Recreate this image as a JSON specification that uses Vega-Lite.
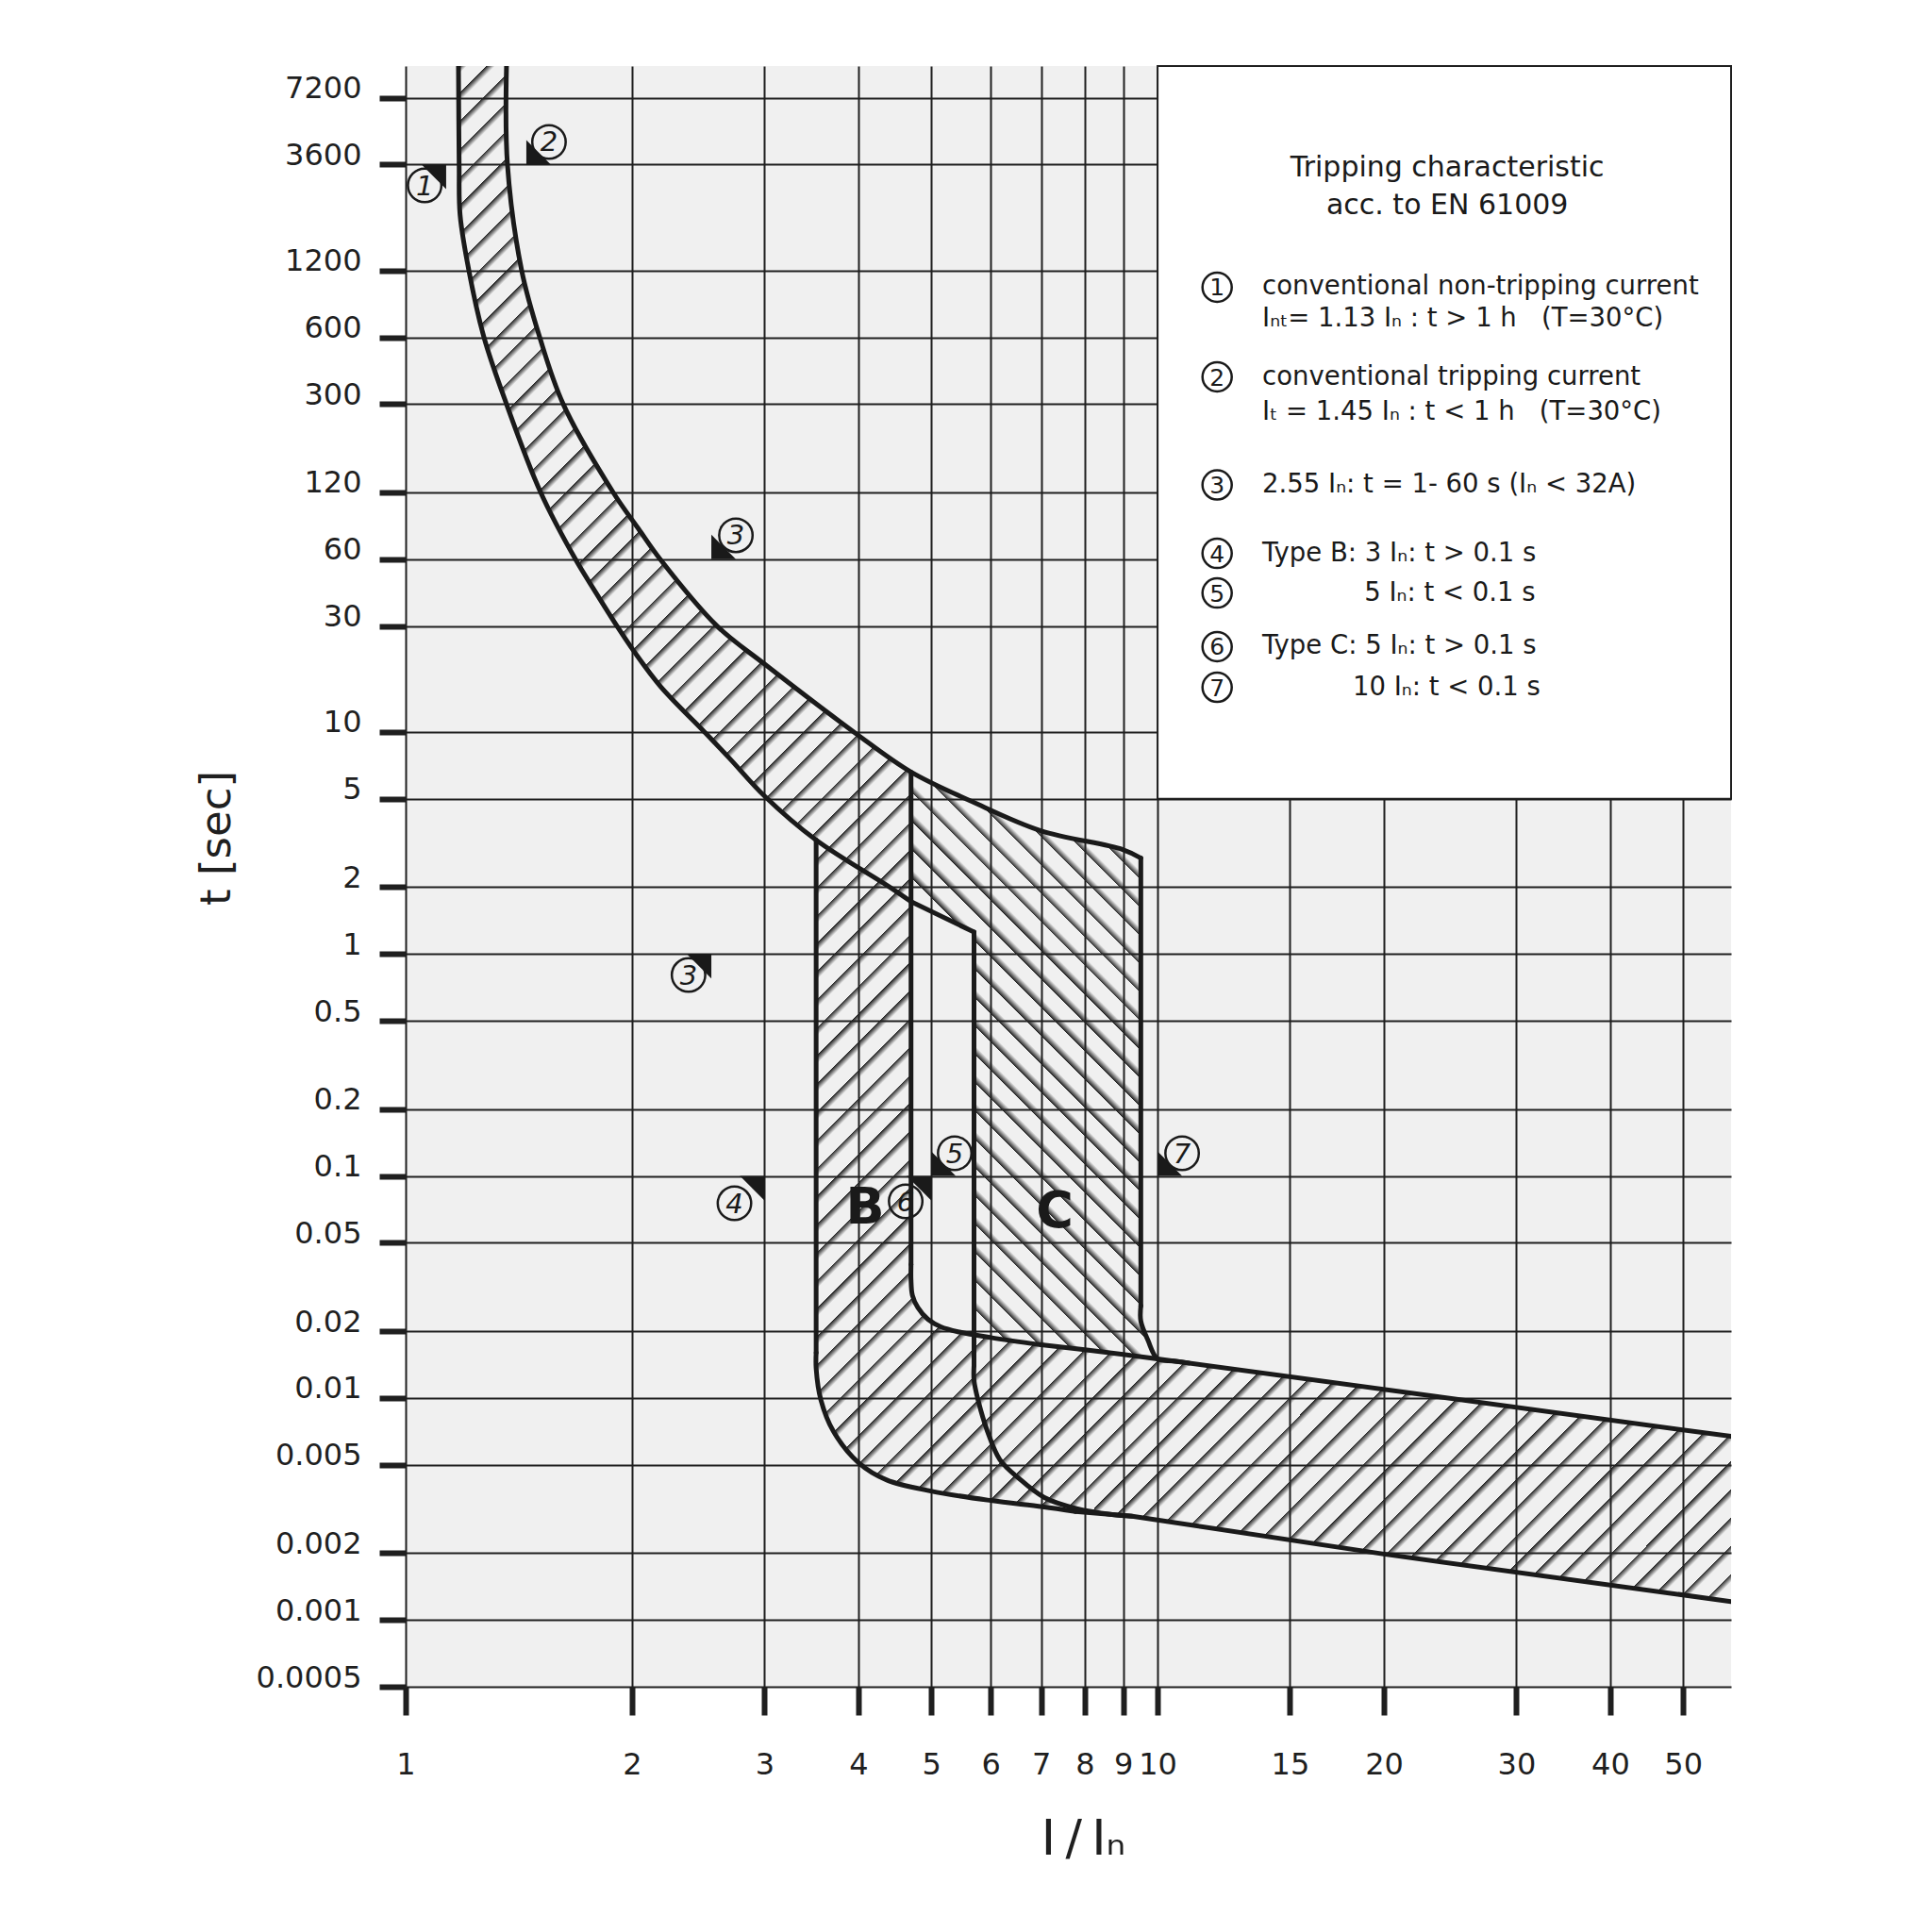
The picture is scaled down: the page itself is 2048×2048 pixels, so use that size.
{
 "$schema": "https://vega.github.io/schema/vega-lite/v6.json",
 "width": 1405,
 "height": 1718,
 "autosize": {"type": "none"},
 "padding": {"left": 430, "top": 70, "right": 213, "bottom": 260},
 "background": "white",
 "config": {"font": "DejaVu Sans", "view": {"fill": "#f0f0f0", "stroke": null}},
 "encoding": {
  "x": {"field": "x", "type": "quantitative",
   "scale": {"type": "log", "domain": [1, 57.9], "nice": false},
   "axis": {"values": [1,2,3,4,5,6,7,8,9,10,15,20,30,40,50], "labelExpr": "'' + datum.value",
    "grid": true, "gridColor": "#1f1f1f", "gridWidth": 2, "gridOpacity": 1,
    "domain": false, "tickSize": 30, "tickWidth": 6, "tickColor": "#1f1f1f",
    "labelFontSize": 32, "labelColor": "#1f1f1f", "labelPadding": 37, "labelFlush": false, "labelOverlap": false,
    "title": "I\u2009/\u2009Iₙ", "titleFontSize": 52, "titleFontWeight": "normal", "titleColor": "#1f1f1f",
    "titleX": 718, "titleY": 177, "titleAlign": "center", "titleBaseline": "alphabetic"}},
  "y": {"field": "t", "type": "quantitative",
   "scale": {"type": "log", "domain": [0.0005, 10000], "nice": false},
   "axis": {"values": [0.0005,0.001,0.002,0.005,0.01,0.02,0.05,0.1,0.2,0.5,1,2,5,10,30,60,120,300,600,1200,3600,7200],
    "labelExpr": "'' + datum.value",
    "grid": true, "gridColor": "#1f1f1f", "gridWidth": 2, "gridOpacity": 1,
    "domain": false, "tickSize": 28, "tickWidth": 6, "tickColor": "#1f1f1f",
    "labelFontSize": 32, "labelColor": "#1f1f1f", "labelPadding": 19, "labelBaseline": "alphabetic",
    "title": "t [sec]", "titleFontSize": 45, "titleFontWeight": "normal", "titleColor": "#1f1f1f",
    "titleX": -201, "titleY": 818, "titleAngle": -90, "titleAlign": "center", "titleBaseline": "middle"}}
 },
 "layer": [
  {"data": {"values": [{"x": 10, "x2": 57.9, "t": 5, "t2": 10000}]},
   "mark": {"type": "rect", "fill": "white", "stroke": "#1f1f1f", "strokeWidth": 2},
   "encoding": {"x2": {"field": "x2"}, "y2": {"field": "t2"}}},
  {"data": {"values": [
    {"t":10000,"x":1.1756,"x2":1.3619},
    {"t":3600,"x":1.178,"x2":1.3658},
    {"t":2141,"x":1.1813,"x2":1.394},
    {"t":1200,"x":1.2136,"x2":1.4266},
    {"t":600,"x":1.271,"x2":1.5077},
    {"t":300,"x":1.3619,"x2":1.6202},
    {"t":120,"x":1.512,"x2":1.888},
    {"t":82.3,"x":1.6023,"x2":2.04},
    {"t":60,"x":1.682,"x2":2.18},
    {"t":42.9,"x":1.787,"x2":2.3717},
    {"t":30,"x":1.91,"x2":2.595},
    {"t":23.1,"x":2.012,"x2":2.8576},
    {"t":20.25,"x":2.072,"x2":3.0},
    {"t":16.06,"x":2.182,"x2":3.283},
    {"t":10,"x":2.497,"x2":3.945},
    {"t":7.61,"x":2.696,"x2":4.4264},
    {"t":6.6,"x":2.8036,"x2":4.70},
    {"t":5.15,"x":3.0,"x2":4.70},
    {"t":3.258,"x":3.515,"x2":4.70},
    {"t":0.034,"x":3.515,"x2":4.70},
    {"t":0.029,"x":3.515,"x2":4.72},
    {"t":0.0255,"x":3.515,"x2":4.80},
    {"t":0.0226,"x":3.515,"x2":4.95},
    {"t":0.0209,"x":3.515,"x2":5.15},
    {"t":0.0198,"x":3.515,"x2":5.45},
    {"t":0.0187,"x":3.515,"x2":6.0},
    {"t":0.01735,"x":3.515,"x2":7.0},
    {"t":0.0165,"x":3.515,"x2":8.0},
    {"t":0.0157,"x":3.515,"x2":9.0},
    {"t":0.015,"x":3.515,"x2":10.0},
    {"t":0.01358,"x":3.515,"x2":12.43},
    {"t":0.00981,"x":3.566,"x2":25.27},
    {"t":0.00707,"x":3.706,"x2":51.67},
    {"t":0.00671,"x":3.752,"x2":57.9},
    {"t":0.005105,"x":4.003,"x2":57.9},
    {"t":0.004268,"x":4.364,"x2":57.9},
    {"t":0.003806,"x":4.995,"x2":57.9},
    {"t":0.003451,"x":5.997,"x2":57.9},
    {"t":0.003233,"x":7.03,"x2":57.9},
    {"t":0.003078,"x":7.779,"x2":57.9},
    {"t":0.00293,"x":9.25,"x2":57.9},
    {"t":0.00198,"x":20,"x2":57.9},
    {"t":0.00121,"x":57.9,"x2":57.9}
   ]},
   "mark": {"type": "area", "orient": "horizontal", "clip": true,
    "fill": {"gradient": "linear", "x1": 0, "y1": 0, "x2": 0.8988, "y2": 1.084, "stops": [
{"offset":0,"color":"#222"},{"offset":0.003,"color":"#2220"},{"offset":0.01,"color":"#2220"},
{"offset":0.01,"color":"#222"},{"offset":0.013,"color":"#2220"},{"offset":0.02,"color":"#2220"},
{"offset":0.02,"color":"#222"},{"offset":0.023,"color":"#2220"},{"offset":0.03,"color":"#2220"},
{"offset":0.03,"color":"#222"},{"offset":0.033,"color":"#2220"},{"offset":0.04,"color":"#2220"},
{"offset":0.04,"color":"#222"},{"offset":0.043,"color":"#2220"},{"offset":0.05,"color":"#2220"},
{"offset":0.05,"color":"#222"},{"offset":0.053,"color":"#2220"},{"offset":0.06,"color":"#2220"},
{"offset":0.06,"color":"#222"},{"offset":0.063,"color":"#2220"},{"offset":0.07,"color":"#2220"},
{"offset":0.07,"color":"#222"},{"offset":0.073,"color":"#2220"},{"offset":0.08,"color":"#2220"},
{"offset":0.08,"color":"#222"},{"offset":0.083,"color":"#2220"},{"offset":0.09,"color":"#2220"},
{"offset":0.09,"color":"#222"},{"offset":0.093,"color":"#2220"},{"offset":0.1,"color":"#2220"},
{"offset":0.1,"color":"#222"},{"offset":0.103,"color":"#2220"},{"offset":0.11,"color":"#2220"},
{"offset":0.11,"color":"#222"},{"offset":0.113,"color":"#2220"},{"offset":0.12,"color":"#2220"},
{"offset":0.12,"color":"#222"},{"offset":0.123,"color":"#2220"},{"offset":0.13,"color":"#2220"},
{"offset":0.13,"color":"#222"},{"offset":0.133,"color":"#2220"},{"offset":0.14,"color":"#2220"},
{"offset":0.14,"color":"#222"},{"offset":0.143,"color":"#2220"},{"offset":0.15,"color":"#2220"},
{"offset":0.15,"color":"#222"},{"offset":0.153,"color":"#2220"},{"offset":0.16,"color":"#2220"},
{"offset":0.16,"color":"#222"},{"offset":0.163,"color":"#2220"},{"offset":0.17,"color":"#2220"},
{"offset":0.17,"color":"#222"},{"offset":0.173,"color":"#2220"},{"offset":0.18,"color":"#2220"},
{"offset":0.18,"color":"#222"},{"offset":0.183,"color":"#2220"},{"offset":0.19,"color":"#2220"},
{"offset":0.19,"color":"#222"},{"offset":0.193,"color":"#2220"},{"offset":0.2,"color":"#2220"},
{"offset":0.2,"color":"#222"},{"offset":0.203,"color":"#2220"},{"offset":0.21,"color":"#2220"},
{"offset":0.21,"color":"#222"},{"offset":0.213,"color":"#2220"},{"offset":0.22,"color":"#2220"},
{"offset":0.22,"color":"#222"},{"offset":0.223,"color":"#2220"},{"offset":0.23,"color":"#2220"},
{"offset":0.23,"color":"#222"},{"offset":0.233,"color":"#2220"},{"offset":0.24,"color":"#2220"},
{"offset":0.24,"color":"#222"},{"offset":0.243,"color":"#2220"},{"offset":0.25,"color":"#2220"},
{"offset":0.25,"color":"#222"},{"offset":0.253,"color":"#2220"},{"offset":0.26,"color":"#2220"},
{"offset":0.26,"color":"#222"},{"offset":0.263,"color":"#2220"},{"offset":0.27,"color":"#2220"},
{"offset":0.27,"color":"#222"},{"offset":0.273,"color":"#2220"},{"offset":0.28,"color":"#2220"},
{"offset":0.28,"color":"#222"},{"offset":0.283,"color":"#2220"},{"offset":0.29,"color":"#2220"},
{"offset":0.29,"color":"#222"},{"offset":0.293,"color":"#2220"},{"offset":0.3,"color":"#2220"},
{"offset":0.3,"color":"#222"},{"offset":0.303,"color":"#2220"},{"offset":0.31,"color":"#2220"},
{"offset":0.31,"color":"#222"},{"offset":0.313,"color":"#2220"},{"offset":0.32,"color":"#2220"},
{"offset":0.32,"color":"#222"},{"offset":0.323,"color":"#2220"},{"offset":0.33,"color":"#2220"},
{"offset":0.33,"color":"#222"},{"offset":0.333,"color":"#2220"},{"offset":0.34,"color":"#2220"},
{"offset":0.34,"color":"#222"},{"offset":0.343,"color":"#2220"},{"offset":0.35,"color":"#2220"},
{"offset":0.35,"color":"#222"},{"offset":0.353,"color":"#2220"},{"offset":0.36,"color":"#2220"},
{"offset":0.36,"color":"#222"},{"offset":0.363,"color":"#2220"},{"offset":0.37,"color":"#2220"},
{"offset":0.37,"color":"#222"},{"offset":0.373,"color":"#2220"},{"offset":0.38,"color":"#2220"},
{"offset":0.38,"color":"#222"},{"offset":0.383,"color":"#2220"},{"offset":0.39,"color":"#2220"},
{"offset":0.39,"color":"#222"},{"offset":0.393,"color":"#2220"},{"offset":0.4,"color":"#2220"},
{"offset":0.4,"color":"#222"},{"offset":0.403,"color":"#2220"},{"offset":0.41,"color":"#2220"},
{"offset":0.41,"color":"#222"},{"offset":0.413,"color":"#2220"},{"offset":0.42,"color":"#2220"},
{"offset":0.42,"color":"#222"},{"offset":0.423,"color":"#2220"},{"offset":0.43,"color":"#2220"},
{"offset":0.43,"color":"#222"},{"offset":0.433,"color":"#2220"},{"offset":0.44,"color":"#2220"},
{"offset":0.44,"color":"#222"},{"offset":0.443,"color":"#2220"},{"offset":0.45,"color":"#2220"},
{"offset":0.45,"color":"#222"},{"offset":0.453,"color":"#2220"},{"offset":0.46,"color":"#2220"},
{"offset":0.46,"color":"#222"},{"offset":0.463,"color":"#2220"},{"offset":0.47,"color":"#2220"},
{"offset":0.47,"color":"#222"},{"offset":0.473,"color":"#2220"},{"offset":0.48,"color":"#2220"},
{"offset":0.48,"color":"#222"},{"offset":0.483,"color":"#2220"},{"offset":0.49,"color":"#2220"},
{"offset":0.49,"color":"#222"},{"offset":0.493,"color":"#2220"},{"offset":0.5,"color":"#2220"},
{"offset":0.5,"color":"#222"},{"offset":0.503,"color":"#2220"},{"offset":0.51,"color":"#2220"},
{"offset":0.51,"color":"#222"},{"offset":0.513,"color":"#2220"},{"offset":0.52,"color":"#2220"},
{"offset":0.52,"color":"#222"},{"offset":0.523,"color":"#2220"},{"offset":0.53,"color":"#2220"},
{"offset":0.53,"color":"#222"},{"offset":0.533,"color":"#2220"},{"offset":0.54,"color":"#2220"},
{"offset":0.54,"color":"#222"},{"offset":0.543,"color":"#2220"},{"offset":0.55,"color":"#2220"},
{"offset":0.55,"color":"#222"},{"offset":0.553,"color":"#2220"},{"offset":0.56,"color":"#2220"},
{"offset":0.56,"color":"#222"},{"offset":0.563,"color":"#2220"},{"offset":0.57,"color":"#2220"},
{"offset":0.57,"color":"#222"},{"offset":0.573,"color":"#2220"},{"offset":0.58,"color":"#2220"},
{"offset":0.58,"color":"#222"},{"offset":0.583,"color":"#2220"},{"offset":0.59,"color":"#2220"},
{"offset":0.59,"color":"#222"},{"offset":0.593,"color":"#2220"},{"offset":0.6,"color":"#2220"},
{"offset":0.6,"color":"#222"},{"offset":0.603,"color":"#2220"},{"offset":0.61,"color":"#2220"},
{"offset":0.61,"color":"#222"},{"offset":0.613,"color":"#2220"},{"offset":0.62,"color":"#2220"},
{"offset":0.62,"color":"#222"},{"offset":0.623,"color":"#2220"},{"offset":0.63,"color":"#2220"},
{"offset":0.63,"color":"#222"},{"offset":0.633,"color":"#2220"},{"offset":0.64,"color":"#2220"},
{"offset":0.64,"color":"#222"},{"offset":0.643,"color":"#2220"},{"offset":0.65,"color":"#2220"},
{"offset":0.65,"color":"#222"},{"offset":0.653,"color":"#2220"},{"offset":0.66,"color":"#2220"},
{"offset":0.66,"color":"#222"},{"offset":0.663,"color":"#2220"},{"offset":0.67,"color":"#2220"},
{"offset":0.67,"color":"#222"},{"offset":0.673,"color":"#2220"},{"offset":0.68,"color":"#2220"},
{"offset":0.68,"color":"#222"},{"offset":0.683,"color":"#2220"},{"offset":0.69,"color":"#2220"},
{"offset":0.69,"color":"#222"},{"offset":0.693,"color":"#2220"},{"offset":0.7,"color":"#2220"},
{"offset":0.7,"color":"#222"},{"offset":0.703,"color":"#2220"},{"offset":0.71,"color":"#2220"},
{"offset":0.71,"color":"#222"},{"offset":0.713,"color":"#2220"},{"offset":0.72,"color":"#2220"},
{"offset":0.72,"color":"#222"},{"offset":0.723,"color":"#2220"},{"offset":0.73,"color":"#2220"},
{"offset":0.73,"color":"#222"},{"offset":0.733,"color":"#2220"},{"offset":0.74,"color":"#2220"},
{"offset":0.74,"color":"#222"},{"offset":0.743,"color":"#2220"},{"offset":0.75,"color":"#2220"},
{"offset":0.75,"color":"#222"},{"offset":0.753,"color":"#2220"},{"offset":0.76,"color":"#2220"},
{"offset":0.76,"color":"#222"},{"offset":0.763,"color":"#2220"},{"offset":0.77,"color":"#2220"},
{"offset":0.77,"color":"#222"},{"offset":0.773,"color":"#2220"},{"offset":0.78,"color":"#2220"},
{"offset":0.78,"color":"#222"},{"offset":0.783,"color":"#2220"},{"offset":0.79,"color":"#2220"},
{"offset":0.79,"color":"#222"},{"offset":0.793,"color":"#2220"},{"offset":0.8,"color":"#2220"},
{"offset":0.8,"color":"#222"},{"offset":0.803,"color":"#2220"},{"offset":0.81,"color":"#2220"},
{"offset":0.81,"color":"#222"},{"offset":0.813,"color":"#2220"},{"offset":0.82,"color":"#2220"},
{"offset":0.82,"color":"#222"},{"offset":0.823,"color":"#2220"},{"offset":0.83,"color":"#2220"},
{"offset":0.83,"color":"#222"},{"offset":0.833,"color":"#2220"},{"offset":0.84,"color":"#2220"},
{"offset":0.84,"color":"#222"},{"offset":0.843,"color":"#2220"},{"offset":0.85,"color":"#2220"},
{"offset":0.85,"color":"#222"},{"offset":0.853,"color":"#2220"},{"offset":0.86,"color":"#2220"},
{"offset":0.86,"color":"#222"},{"offset":0.863,"color":"#2220"},{"offset":0.87,"color":"#2220"},
{"offset":0.87,"color":"#222"},{"offset":0.873,"color":"#2220"},{"offset":0.88,"color":"#2220"},
{"offset":0.88,"color":"#222"},{"offset":0.883,"color":"#2220"},{"offset":0.89,"color":"#2220"},
{"offset":0.89,"color":"#222"},{"offset":0.893,"color":"#2220"},{"offset":0.9,"color":"#2220"},
{"offset":0.9,"color":"#222"},{"offset":0.903,"color":"#2220"},{"offset":0.91,"color":"#2220"},
{"offset":0.91,"color":"#222"},{"offset":0.913,"color":"#2220"},{"offset":0.92,"color":"#2220"},
{"offset":0.92,"color":"#222"},{"offset":0.923,"color":"#2220"},{"offset":0.93,"color":"#2220"},
{"offset":0.93,"color":"#222"},{"offset":0.933,"color":"#2220"},{"offset":0.94,"color":"#2220"},
{"offset":0.94,"color":"#222"},{"offset":0.943,"color":"#2220"},{"offset":0.95,"color":"#2220"},
{"offset":0.95,"color":"#222"},{"offset":0.953,"color":"#2220"},{"offset":0.96,"color":"#2220"},
{"offset":0.96,"color":"#222"},{"offset":0.963,"color":"#2220"},{"offset":0.97,"color":"#2220"},
{"offset":0.97,"color":"#222"},{"offset":0.973,"color":"#2220"},{"offset":0.98,"color":"#2220"},
{"offset":0.98,"color":"#222"},{"offset":0.983,"color":"#2220"},{"offset":0.99,"color":"#2220"},
{"offset":0.99,"color":"#222"},{"offset":0.993,"color":"#2220"},{"offset":1,"color":"#2220"}
    ]}},
   "encoding": {"x2": {"field": "x2"}}},
  {"data": {"values": [
    {"t":6.6,"x":4.70,"x2":4.70},
    {"t":4.867,"x":4.70,"x2":5.66},
    {"t":3.594,"x":4.70,"x2":6.991},
    {"t":2.954,"x":4.70,"x2":8.986},
    {"t":2.705,"x":4.70,"x2":9.50},
    {"t":1.72,"x":4.70,"x2":9.50},
    {"t":1.254,"x":5.70,"x2":9.50},
    {"t":0.02216,"x":5.70,"x2":9.50},
    {"t":0.0193,"x":5.70,"x2":9.60},
    {"t":0.01822,"x":6.33,"x2":9.707},
    {"t":0.0165,"x":8.0,"x2":9.856},
    {"t":0.0157,"x":9.0,"x2":9.93},
    {"t":0.015,"x":10.0,"x2":10.0}
   ]},
   "mark": {"type": "area", "orient": "horizontal", "clip": true,
    "fill": {"gradient": "linear", "x1": 0, "y1": 1, "x2": 0.5072, "y2": -0.2071, "stops": [
{"offset":0,"color":"#222"},{"offset":0.0105,"color":"#2220"},{"offset":0.034,"color":"#2220"},
{"offset":0.034,"color":"#222"},{"offset":0.0445,"color":"#2220"},{"offset":0.068,"color":"#2220"},
{"offset":0.068,"color":"#222"},{"offset":0.0785,"color":"#2220"},{"offset":0.102,"color":"#2220"},
{"offset":0.102,"color":"#222"},{"offset":0.1125,"color":"#2220"},{"offset":0.136,"color":"#2220"},
{"offset":0.136,"color":"#222"},{"offset":0.1465,"color":"#2220"},{"offset":0.17,"color":"#2220"},
{"offset":0.17,"color":"#222"},{"offset":0.1805,"color":"#2220"},{"offset":0.204,"color":"#2220"},
{"offset":0.204,"color":"#222"},{"offset":0.2145,"color":"#2220"},{"offset":0.238,"color":"#2220"},
{"offset":0.238,"color":"#222"},{"offset":0.2485,"color":"#2220"},{"offset":0.272,"color":"#2220"},
{"offset":0.272,"color":"#222"},{"offset":0.2825,"color":"#2220"},{"offset":0.306,"color":"#2220"},
{"offset":0.306,"color":"#222"},{"offset":0.3165,"color":"#2220"},{"offset":0.34,"color":"#2220"},
{"offset":0.34,"color":"#222"},{"offset":0.3505,"color":"#2220"},{"offset":0.374,"color":"#2220"},
{"offset":0.374,"color":"#222"},{"offset":0.3845,"color":"#2220"},{"offset":0.408,"color":"#2220"},
{"offset":0.408,"color":"#222"},{"offset":0.4185,"color":"#2220"},{"offset":0.442,"color":"#2220"},
{"offset":0.442,"color":"#222"},{"offset":0.4525,"color":"#2220"},{"offset":0.476,"color":"#2220"},
{"offset":0.476,"color":"#222"},{"offset":0.4865,"color":"#2220"},{"offset":0.51,"color":"#2220"},
{"offset":0.51,"color":"#222"},{"offset":0.5205,"color":"#2220"},{"offset":0.544,"color":"#2220"},
{"offset":0.544,"color":"#222"},{"offset":0.5545,"color":"#2220"},{"offset":0.578,"color":"#2220"},
{"offset":0.578,"color":"#222"},{"offset":0.5885,"color":"#2220"},{"offset":0.612,"color":"#2220"},
{"offset":0.612,"color":"#222"},{"offset":0.6225,"color":"#2220"},{"offset":0.646,"color":"#2220"},
{"offset":0.646,"color":"#222"},{"offset":0.6565,"color":"#2220"},{"offset":0.68,"color":"#2220"},
{"offset":0.68,"color":"#222"},{"offset":0.6905,"color":"#2220"},{"offset":0.714,"color":"#2220"},
{"offset":0.714,"color":"#222"},{"offset":0.7245,"color":"#2220"},{"offset":0.748,"color":"#2220"},
{"offset":0.748,"color":"#222"},{"offset":0.7585,"color":"#2220"},{"offset":0.782,"color":"#2220"},
{"offset":0.782,"color":"#222"},{"offset":0.7925,"color":"#2220"},{"offset":0.816,"color":"#2220"},
{"offset":0.816,"color":"#222"},{"offset":0.8265,"color":"#2220"},{"offset":0.85,"color":"#2220"},
{"offset":0.85,"color":"#222"},{"offset":0.8605,"color":"#2220"},{"offset":0.884,"color":"#2220"},
{"offset":0.884,"color":"#222"},{"offset":0.8945,"color":"#2220"},{"offset":0.918,"color":"#2220"},
{"offset":0.918,"color":"#222"},{"offset":0.9285,"color":"#2220"},{"offset":0.952,"color":"#2220"},
{"offset":0.952,"color":"#222"},{"offset":0.9625,"color":"#2220"},{"offset":0.986,"color":"#2220"},
{"offset":0.986,"color":"#222"},{"offset":0.9965,"color":"#2220"},{"offset":1,"color":"#2220"}
    ]}},
   "encoding": {"x2": {"field": "x2"}}},
  {"data": {"values": [
    {"seg":"L","i":0,"x":1.1756,"t":10000},{"seg":"L","i":1,"x":1.178,"t":3600},{"seg":"L","i":2,"x":1.1813,"t":2141},
    {"seg":"L","i":3,"x":1.2136,"t":1200},{"seg":"L","i":4,"x":1.271,"t":600},{"seg":"L","i":5,"x":1.3619,"t":300},
    {"seg":"L","i":6,"x":1.512,"t":120},{"seg":"L","i":7,"x":1.682,"t":60},{"seg":"L","i":8,"x":1.787,"t":42.9},
    {"seg":"L","i":9,"x":1.91,"t":30},{"seg":"L","i":10,"x":2.012,"t":23.1},{"seg":"L","i":11,"x":2.182,"t":16.06},
    {"seg":"L","i":12,"x":2.497,"t":10},{"seg":"L","i":13,"x":2.696,"t":7.61},{"seg":"L","i":14,"x":3.0,"t":5.15},
    {"seg":"L","i":15,"x":3.515,"t":3.258},{"seg":"L","i":16,"x":4.403,"t":2.0},{"seg":"L","i":17,"x":4.70,"t":1.72},
    {"seg":"U","i":0,"x":1.3619,"t":10000},{"seg":"U","i":1,"x":1.3658,"t":3600},{"seg":"U","i":2,"x":1.4266,"t":1200},
    {"seg":"U","i":3,"x":1.5077,"t":600},{"seg":"U","i":4,"x":1.6202,"t":300},{"seg":"U","i":5,"x":1.888,"t":120},
    {"seg":"U","i":6,"x":2.04,"t":82.3},{"seg":"U","i":7,"x":2.18,"t":60},{"seg":"U","i":8,"x":2.595,"t":30},
    {"seg":"U","i":9,"x":3.0,"t":20.25},{"seg":"U","i":10,"x":3.945,"t":10},{"seg":"U","i":11,"x":4.70,"t":6.6},
    {"seg":"U","i":12,"x":5.66,"t":4.867},{"seg":"U","i":13,"x":6.991,"t":3.594},{"seg":"U","i":14,"x":8.986,"t":2.954},
    {"seg":"U","i":15,"x":9.50,"t":2.705},
    {"seg":"Bb","i":0,"x":3.515,"t":0.016},{"seg":"Bb","i":1,"x":3.515,"t":0.01358},{"seg":"Bb","i":2,"x":3.566,"t":0.00981},
    {"seg":"Bb","i":3,"x":3.706,"t":0.00707},{"seg":"Bb","i":4,"x":4.003,"t":0.005105},{"seg":"Bb","i":5,"x":4.364,"t":0.004268},
    {"seg":"Bb","i":6,"x":4.995,"t":0.003806},{"seg":"Bb","i":7,"x":5.997,"t":0.003451},{"seg":"Bb","i":8,"x":7.03,"t":0.003233},
    {"seg":"Bb","i":9,"x":7.779,"t":0.003078},
    {"seg":"Bt","i":0,"x":4.70,"t":0.04},{"seg":"Bt","i":1,"x":4.70,"t":0.034},{"seg":"Bt","i":2,"x":4.72,"t":0.029},
    {"seg":"Bt","i":3,"x":4.80,"t":0.0255},{"seg":"Bt","i":4,"x":4.95,"t":0.0226},{"seg":"Bt","i":5,"x":5.15,"t":0.0209},
    {"seg":"Bt","i":6,"x":5.45,"t":0.0198},{"seg":"Bt","i":7,"x":6.0,"t":0.0187},{"seg":"Bt","i":8,"x":7.0,"t":0.01735},
    {"seg":"Cr","i":0,"x":9.50,"t":0.026},{"seg":"Cr","i":1,"x":9.50,"t":0.02216},{"seg":"Cr","i":2,"x":9.707,"t":0.01822},
    {"seg":"Cr","i":3,"x":10.0,"t":0.015},{"seg":"Cr","i":4,"x":10.5,"t":0.01467},{"seg":"Cr","i":5,"x":11,"t":0.01436},
    {"seg":"Cb","i":0,"x":5.70,"t":0.014},{"seg":"Cb","i":1,"x":5.70,"t":0.012},{"seg":"Cb","i":2,"x":5.77,"t":0.00981},
    {"seg":"Cb","i":3,"x":5.94,"t":0.00707},{"seg":"Cb","i":4,"x":6.17,"t":0.00527},{"seg":"Cb","i":5,"x":6.54,"t":0.00434},
    {"seg":"Cb","i":6,"x":7.063,"t":0.003565},{"seg":"Cb","i":7,"x":7.779,"t":0.00318},{"seg":"Cb","i":8,"x":8.7,"t":0.00298},
    {"seg":"Cb","i":9,"x":9.25,"t":0.00293}
   ]},
   "mark": {"type": "line", "interpolate": "catmull-rom", "stroke": "#1a1a1a", "strokeWidth": 5, "strokeJoin": "round", "strokeCap": "round", "clip": true},
   "encoding": {"detail": {"field": "seg", "type": "nominal"}, "order": {"field": "i", "type": "quantitative"}}},
  {"data": {"values": [
    {"seg":"Ld","i":0,"x":4.70,"t":1.72},{"seg":"Ld","i":1,"x":5.70,"t":1.254},
    {"seg":"Brv","i":0,"x":4.70,"t":6.6},{"seg":"Brv","i":1,"x":4.70,"t":0.04},
    {"seg":"Blv","i":0,"x":3.515,"t":3.258},{"seg":"Blv","i":1,"x":3.515,"t":0.016},
    {"seg":"Blow","i":0,"x":7.779,"t":0.003078},{"seg":"Blow","i":1,"x":9.25,"t":0.00293},{"seg":"Blow","i":2,"x":20,"t":0.00198},
    {"seg":"Blow","i":3,"x":57.9,"t":0.00121},
    {"seg":"Btail","i":0,"x":7.0,"t":0.01735},{"seg":"Btail","i":1,"x":8.0,"t":0.0165},{"seg":"Btail","i":2,"x":9.0,"t":0.0157},
    {"seg":"Btail","i":3,"x":10.0,"t":0.015},{"seg":"Btail","i":4,"x":57.9,"t":0.00671},
    {"seg":"Crv","i":0,"x":9.50,"t":2.705},{"seg":"Crv","i":1,"x":9.50,"t":0.026},
    {"seg":"Clv","i":0,"x":5.70,"t":1.254},{"seg":"Clv","i":1,"x":5.70,"t":0.014}
   ]},
   "mark": {"type": "line", "stroke": "#1a1a1a", "strokeWidth": 5, "strokeJoin": "round", "strokeCap": "round", "clip": true},
   "encoding": {"detail": {"field": "seg", "type": "nominal"}, "order": {"field": "i", "type": "quantitative"}}},
  {"data": {"values": [{}]},
   "mark": {"type": "rect", "filled": false, "stroke": "#1f1f1f", "strokeWidth": 6},
   "encoding": {"x": {"datum": 1}, "x2": {"datum": 57.9}, "y": {"datum": 0.0005}, "y2": {"datum": 10000}}},
  {"data": {"values": [
    {"x":1.132,"t":3600,"flag":"tr"},{"x":1.447,"t":3600,"flag":"bl"},{"x":2.55,"t":60,"flag":"bl"},
    {"x":2.55,"t":1,"flag":"tr"},{"x":3,"t":0.1,"flag":"tr"},{"x":5,"t":0.1,"flag":"bl"},
    {"x":5,"t":0.1,"flag":"tr"},{"x":10,"t":0.1,"flag":"bl"}
   ]},
   "mark": {"type": "point", "filled": true, "color": "#1a1a1a", "opacity": 1, "size": 676, "strokeWidth": 0},
   "encoding": {"shape": {"field": "flag", "type": "nominal", "legend": null,
     "scale": {"domain": ["bl", "tr"], "range": ["M0,0L0,-2L2,0Z", "M0,0L-2,0L0,2Z"]}}}},
  {"data": {"values": [
    {"x":1.060,"t":2900,"label":"1"},{"x":1.551,"t":4550,"label":"2"},{"x":2.749,"t":76.9,"label":"3"},
    {"x":2.378,"t":0.804,"label":"3"},{"x":2.737,"t":0.0753,"label":"4"},{"x":5.373,"t":0.1265,"label":"5"},
    {"x":4.624,"t":0.0768,"label":"6"},{"x":10.78,"t":0.1265,"label":"7"}
   ]},
   "layer": [
    {"mark": {"type": "point", "shape": "circle", "filled": false, "size": 1257, "stroke": "#1a1a1a", "strokeWidth": 2.5, "opacity": 1}},
    {"mark": {"type": "text", "fontSize": 29, "fontStyle": "italic", "align": "center", "baseline": "middle", "dy": 1, "color": "#1a1a1a"},
     "encoding": {"text": {"field": "label"}}}
   ]},
  {"data": {"values": [{"x":4.083,"t":0.0717,"label":"B"},{"x":7.30,"t":0.0689,"label":"C"}]},
   "mark": {"type": "text", "fontSize": 54, "fontWeight": "bold", "align": "center", "baseline": "middle", "color": "#1a1a1a"},
   "encoding": {"text": {"field": "label"}}},
  {"data": {"values": [{"x":24.28,"t":3475,"label":"Tripping characteristic"},{"x":24.28,"t":2360,"label":"acc. to EN 61009"}]},
   "mark": {"type": "text", "fontSize": 30, "align": "center", "baseline": "middle", "color": "#1a1a1a"},
   "encoding": {"text": {"field": "label"}}},
  {"data": {"values": [
    {"x":13.78,"t":1008,"label":"conventional non-tripping current"},
    {"x":13.78,"t":725.5,"label":"Iₙₜ= 1.13 Iₙ : t > 1 h\u00a0\u00a0\u00a0(T=30°C)"},
    {"x":13.78,"t":397.8,"label":"conventional tripping current"},
    {"x":13.78,"t":276.9,"label":"Iₜ = 1.45 Iₙ : t < 1 h\u00a0\u00a0\u00a0(T=30°C)"},
    {"x":13.78,"t":129.7,"label":"2.55 Iₙ: t = 1- 60 s (Iₙ < 32A)"},
    {"x":13.78,"t":63.8,"label":"Type B: 3 Iₙ: t > 0.1 s"},
    {"x":18.83,"t":42.3,"label":"5 Iₙ: t < 0.1 s"},
    {"x":13.78,"t":24.23,"label":"Type C: 5 Iₙ: t > 0.1 s"},
    {"x":18.18,"t":15.9,"label":"10 Iₙ: t < 0.1 s"}
   ]},
   "mark": {"type": "text", "fontSize": 27.5, "align": "left", "baseline": "middle", "color": "#1a1a1a"},
   "encoding": {"text": {"field": "label"}}},
  {"data": {"values": [
    {"x":12.0,"t":1008,"label":"1"},{"x":12.0,"t":397.8,"label":"2"},{"x":12.0,"t":129.7,"label":"3"},
    {"x":12.0,"t":63.8,"label":"4"},{"x":12.0,"t":42.3,"label":"5"},{"x":12.0,"t":24.23,"label":"6"},
    {"x":12.0,"t":15.9,"label":"7"}
   ]},
   "layer": [
    {"mark": {"type": "point", "shape": "circle", "filled": false, "size": 962, "stroke": "#1a1a1a", "strokeWidth": 2.5, "opacity": 1}},
    {"mark": {"type": "text", "fontSize": 25, "align": "center", "baseline": "middle", "dy": 1, "color": "#1a1a1a"},
     "encoding": {"text": {"field": "label"}}}
   ]}
 ]
}
